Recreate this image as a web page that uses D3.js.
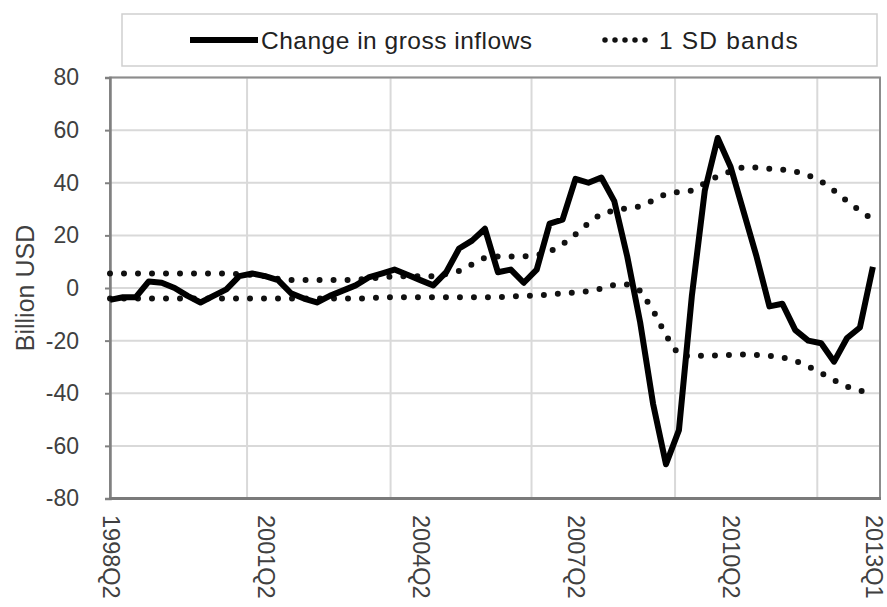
<!DOCTYPE html>
<html>
<head>
<meta charset="utf-8">
<script src="https://cdn.jsdelivr.net/npm/d3@7"></script>
<style>
  body { margin: 0; background: #fff; }
  text { font-family: "Liberation Sans", Arial, sans-serif; }
</style>
</head>
<body>
<div id="chart"></div>
<script>
// quarterly data, 1998Q2 .. 2013Q1
const startYear = 1998, startQ = 2;
const quarters = [];
for (let i = 0; i < 60; i++) {
  const q = (startQ - 1 + i) % 4 + 1;
  const y = startYear + Math.floor((startQ - 1 + i) / 4);
  quarters.push(y + 'Q' + q);
}

const inflows = [
  -4.5, -3.5, -3.5, 2.5, 2, 0, -3, -5.5, -3, -0.5,
  4.5, 5.5, 4.5, 3, -2, -4, -5.5, -3, -1, 1,
  4, 5.5, 7, 5, 3, 1, 6, 15, 18, 22.5,
  6, 7, 2, 7, 24.5, 26, 41.5, 40, 42, 33,
  12, -13, -44, -67, -54, -3, 37, 57, 46, 29,
  12, -7, -6, -16, -20, -21, -28, -19, -15, 8
];

const upperBand = [
  5.5, 5.5, 5.5, 5.5, 5.5, 5.5, 5.5, 5.5, 5.5, 5.5,
  5.3, 5, 4.5, 3.5, 3, 3, 3, 3, 3, 3.2,
  3.5, 4, 4.5, 4.5, 4.5, 4.5, 5.3, 6.5, 9, 11.5,
  12, 12, 12, 12.5, 13.8, 16.6, 20.4, 24.6, 28.2, 29.5,
  30.3, 31, 33.3, 35.8, 36.5, 37, 39.8, 42.5, 44.3, 46,
  45.8, 45.3, 45, 44.3, 42.8, 40.5, 37, 33, 29.3, 26
];

const lowerBand = [
  -4, -4, -4, -4, -4, -4, -4, -4, -4, -4,
  -4, -4, -4, -4, -4, -4, -4, -4, -4, -4,
  -4, -3.5, -3.5, -3.5, -3.5, -3.5, -3.5, -3.5, -3.5, -3.5,
  -3.5, -3.2, -3, -2.8, -2.5, -2, -1.7, -1.2, -0.2, 1.2,
  1.3, -1, -8.5, -18, -25.5, -26, -25.7, -25.6, -25.4, -25.3,
  -25.5, -25.8, -26.4, -27.7, -29.8, -32.3, -35, -37.5, -39, -40
];

const tickIdx = [0, 12, 24, 36, 48, 59];
const yTicks = [80, 60, 40, 20, 0, -20, -40, -60, -80];
// vertical gridlines (in quarter units, as drawn in the source)
const gridQ = [10.6, 21.7, 32.6, 43.7, 54.7];

const W = 887, H = 607;
const plot = { left: 110, right: 880, top: 77.5, bottom: 498.5 };

const svg = d3.select('#chart').append('svg')
  .attr('width', W).attr('height', H);

const x = d3.scaleLinear().domain([0, 59.55]).range([plot.left, plot.right]);
const y = d3.scaleLinear().domain([-80, 80]).range([plot.bottom, plot.top]);

// gridlines
svg.append('g').selectAll('line.h')
  .data(yTicks).enter().append('line')
  .attr('x1', plot.left).attr('x2', plot.right)
  .attr('y1', d => y(d)).attr('y2', d => y(d))
  .attr('stroke', '#d9d9d9').attr('stroke-width', 2);

svg.append('g').selectAll('line.v')
  .data(gridQ).enter().append('line')
  .attr('x1', d => x(d)).attr('x2', d => x(d))
  .attr('y1', plot.top).attr('y2', plot.bottom)
  .attr('stroke', '#d9d9d9').attr('stroke-width', 2);

// plot border
svg.append('rect')
  .attr('x', plot.left).attr('y', plot.top)
  .attr('width', plot.right - plot.left).attr('height', plot.bottom - plot.top)
  .attr('fill', 'none').attr('stroke', '#8c8c8c').attr('stroke-width', 2);

// y axis (plain hyphen for negatives, like the source)
const yAxis = svg.append('g')
  .attr('transform', `translate(${plot.left},0)`)
  .call(d3.axisLeft(y).tickValues(yTicks).tickSize(5).tickPadding(26)
    .tickFormat(d => String(d)));
yAxis.select('.domain').attr('stroke', '#808080').attr('stroke-width', 2.5);
yAxis.selectAll('.tick line').attr('stroke', '#808080').attr('stroke-width', 2);
yAxis.selectAll('.tick text')
  .attr('font-size', 23).attr('fill', '#404040')
  .attr('font-family', '"Liberation Sans", Arial, sans-serif');

// bottom axis line
svg.append('line')
  .attr('x1', plot.left - 1).attr('x2', plot.right + 1)
  .attr('y1', plot.bottom).attr('y2', plot.bottom)
  .attr('stroke', '#7a7a7a').attr('stroke-width', 3);

// x labels, rotated
svg.append('g').selectAll('text')
  .data(tickIdx).enter().append('text')
  .attr('transform', d => `translate(${x(d) + 1},515) rotate(90)`)
  .attr('dy', '0.35em')
  .attr('font-size', 23.5).attr('fill', '#404040')
  .text(d => quarters[d]);

// y title
svg.append('text')
  .attr('transform', `translate(25,${(plot.top + plot.bottom) / 2}) rotate(-90)`)
  .attr('text-anchor', 'middle').attr('dy', '0.35em')
  .attr('font-size', 25).attr('fill', '#404040')
  .text('Billion USD');

const line = d3.line().x((d, i) => x(i)).y(d => y(d));

[upperBand, lowerBand].forEach(band => {
  svg.append('path')
    .datum(band)
    .attr('d', line)
    .attr('fill', 'none').attr('stroke', '#111')
    .attr('stroke-width', 6).attr('stroke-linecap', 'round')
    .attr('stroke-dasharray', '0 14');
});

svg.append('path')
  .datum(inflows)
  .attr('d', line)
  .attr('fill', 'none').attr('stroke', '#000')
  .attr('stroke-width', 6).attr('stroke-linejoin', 'round');

// legend
const lg = svg.append('g');
lg.append('rect')
  .attr('x', 122).attr('y', 14).attr('width', 755).attr('height', 52)
  .attr('fill', '#fff').attr('stroke', '#cfcfcf').attr('stroke-width', 1.5);
lg.append('line')
  .attr('x1', 190).attr('x2', 258).attr('y1', 40).attr('y2', 40)
  .attr('stroke', '#000').attr('stroke-width', 6);
lg.append('text')
  .attr('x', 261).attr('y', 40).attr('dy', '0.35em')
  .attr('font-size', 24.5).attr('letter-spacing', 0.5).attr('fill', '#222')
  .text('Change in gross inflows');
lg.append('line')
  .attr('x1', 605).attr('x2', 655).attr('y1', 40).attr('y2', 40)
  .attr('stroke', '#111').attr('stroke-width', 5.5)
  .attr('stroke-linecap', 'round').attr('stroke-dasharray', '0 10');
lg.append('text')
  .attr('x', 659).attr('y', 40).attr('dy', '0.35em')
  .attr('font-size', 24.5).attr('letter-spacing', 1.2).attr('fill', '#222')
  .text('1 SD bands');
</script>
</body>
</html>
